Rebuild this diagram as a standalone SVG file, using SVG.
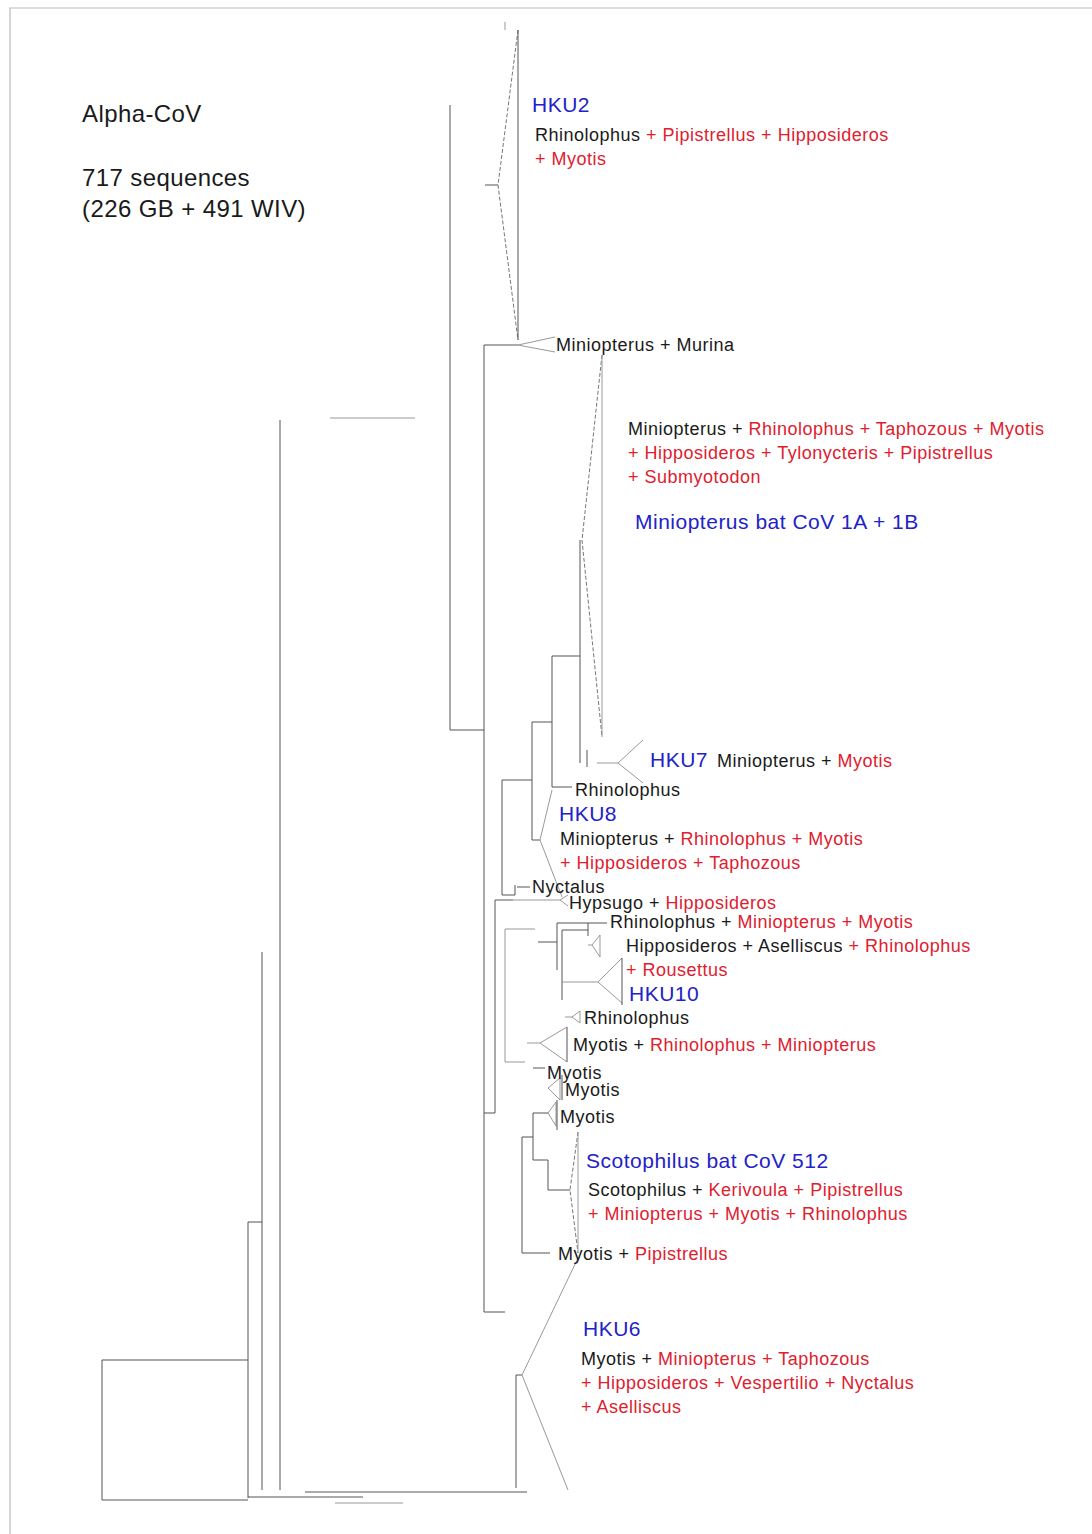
<svg xmlns="http://www.w3.org/2000/svg" width="1092" height="1534" viewBox="0 0 1092 1534">
<style>
text{font-family:"Liberation Sans",Arial,sans-serif;font-size:18px;letter-spacing:0.5px;fill:#1a1a1a}
.t{font-size:24px;letter-spacing:0.4px}
.b{fill:#2222c8;font-size:21px;letter-spacing:0.5px}
.r{fill:#e0202e}
.k{fill:#1a1a1a}
.ln{stroke:#555;stroke-width:1;fill:none}
.lt{stroke:#999;stroke-width:1;fill:none}
.ds{stroke:#777;stroke-width:1;fill:none;stroke-dasharray:4 2}
.fr{stroke:#bbb;stroke-width:1.2;fill:none}
</style>
<rect width="1092" height="1534" fill="#fff"/>
<path class="fr" d="M10 1534V8H1092"/>
<g id="connectors">
<path class="ln" d="M248 1360H102V1500H248"/>
<path class="ln" d="M248 1222V1498"/>
<path class="ln" d="M248 1222H262"/>
<path class="ln" d="M262 952V1490"/>
<path class="ln" d="M248 1497H363"/>
<path class="ln" d="M305 1492H527"/>
<path class="lt" d="M335 1503H403"/>
<path class="ln" d="M280 420V1490"/>
<path class="lt" d="M330 418H415"/>
<path class="ln" d="M450 105V730H484"/>
<path class="ln" d="M484 345V1312H505"/>
<path class="ln" d="M485 185H498"/>
<path class="ds" d="M518 30L498 185L518 340"/>
<path class="ln" d="M518 30V340"/>
<path class="lt" d="M505 22V30"/>
<path class="ln" d="M484 345H518"/>
<path class="lt" d="M518 345L555 337M518 345L555 352"/>
<path class="ds" d="M602 355L582 540L602 737"/>
<path class="lt" d="M602 355V737"/>
<path class="ln" d="M580 540V763"/>
<path class="ln" d="M552 656H580"/>
<path class="ln" d="M552 656V787H572"/>
<path class="ln" d="M532 722H552"/>
<path class="ln" d="M532 722V840H540"/>
<path class="ln" d="M587 750V767"/>
<path class="lt" d="M597 763H618L643 740M618 763L643 783"/>
<path class="lt" d="M552 790L540 840L562 897"/>
<path class="ln" d="M502 780H532"/>
<path class="ln" d="M502 780V895H515"/>
<path class="ln" d="M515 885V895"/>
<path class="ln" d="M517 887H530"/>
<path class="ln" d="M495 900V1113H484"/>
<path class="ln" d="M495 900H513"/>
<path class="lt" d="M513 900H560L568 895M560 900L568 906"/>
<path class="lt" d="M505 929H535"/>
<path class="lt" d="M505 929V1062H525"/>
<path class="ln" d="M538 942H557"/>
<path class="ln" d="M557 923V970"/>
<path class="ln" d="M557 923H607"/>
<path class="ln" d="M562 930V1000"/>
<path class="ln" d="M562 930H588M588 923V936"/>
<path class="lt" d="M588 945H592L600 935V957L592 945"/>
<path class="lt" d="M562 982H598L622 958M598 982L622 1003"/>
<path class="ln" d="M622 958V1005"/>
<path class="lt" d="M565 1017H572L580 1011V1023L572 1017"/>
<path class="lt" d="M527 1043H540L567 1027M540 1043L567 1062"/>
<path class="ln" d="M567 1027V1062"/>
<path class="ln" d="M533 1068H545"/>
<path class="lt" d="M548 1088L560 1078V1100Z"/>
<path class="ln" d="M562 1075V1100"/>
<path class="lt" d="M548 1113L556 1102V1126Z"/>
<path class="ln" d="M557 1100V1130"/>
<path class="ln" d="M533 1113H548"/>
<path class="ln" d="M533 1113V1160H548"/>
<path class="ln" d="M548 1160V1190H570"/>
<path class="ds" d="M578 1132L570 1190L578 1253"/>
<path class="lt" d="M578 1132V1253"/>
<path class="ln" d="M522 1137H533"/>
<path class="ln" d="M522 1137V1253H550"/>
<path class="ln" d="M516 1375V1488"/>
<path class="ln" d="M516 1375H522"/>
<path class="lt" d="M522 1375L578 1258M522 1375L568 1490"/>
</g>
<g id="title">
<text class="t" x="82" y="122">Alpha-CoV</text>
<text class="t" x="82" y="186">717 sequences</text>
<text class="t" x="82" y="217">(226 GB + 491 WIV)</text>
</g>
<g id="hku2">
<text class="b" x="532" y="112">HKU2</text>
<text x="535" y="141">Rhinolophus <tspan class="r">+ Pipistrellus + Hipposideros</tspan></text>
<text class="r" x="535" y="165">+ Myotis</text>
</g>
<g id="murina"><text x="556" y="351">Miniopterus + Murina</text></g>
<g id="mini1a1b">
<text x="628" y="435">Miniopterus + <tspan class="r">Rhinolophus + Taphozous + Myotis</tspan></text>
<text class="r" x="628" y="459">+ Hipposideros + Tylonycteris + Pipistrellus</text>
<text class="r" x="628" y="483">+ Submyotodon</text>
<text class="b" x="635" y="529">Miniopterus bat CoV 1A + 1B</text>
</g>
<g id="hku7">
<text class="b" x="650" y="767">HKU7</text>
<text x="717" y="767">Miniopterus + <tspan class="r">Myotis</tspan></text>
</g>
<g id="rhino1"><text x="575" y="796">Rhinolophus</text></g>
<g id="hku8">
<text class="b" x="559" y="821">HKU8</text>
<text x="560" y="845">Miniopterus + <tspan class="r">Rhinolophus + Myotis</tspan></text>
<text class="r" x="560" y="869">+ Hipposideros + Taphozous</text>
</g>
<g id="nyctalus"><text x="532" y="893">Nyctalus</text></g>
<g id="hypsugo"><text x="569" y="909">Hypsugo + <tspan class="r">Hipposideros</tspan></text></g>
<g id="rhino2"><text x="610" y="928">Rhinolophus + <tspan class="r">Miniopterus + Myotis</tspan></text></g>
<g id="hku10">
<text x="626" y="952">Hipposideros + Aselliscus <tspan class="r">+ Rhinolophus</tspan></text>
<text class="r" x="626" y="976">+ Rousettus</text>
<text class="b" x="629" y="1001">HKU10</text>
</g>
<g id="rhino3"><text x="584" y="1024">Rhinolophus</text></g>
<g id="myotis1"><text x="573" y="1051">Myotis + <tspan class="r">Rhinolophus + Miniopterus</tspan></text></g>
<g id="myotis2"><text x="547" y="1079">Myotis</text></g>
<g id="myotis3"><text x="565" y="1096">Myotis</text></g>
<g id="myotis4"><text x="560" y="1123">Myotis</text></g>
<g id="scoto">
<text class="b" x="586" y="1168">Scotophilus bat CoV 512</text>
<text x="588" y="1196">Scotophilus + <tspan class="r">Kerivoula + Pipistrellus</tspan></text>
<text class="r" x="588" y="1220">+ Miniopterus + Myotis + Rhinolophus</text>
</g>
<g id="myotis5"><text x="558" y="1260">Myotis + <tspan class="r">Pipistrellus</tspan></text></g>
<g id="hku6">
<text class="b" x="583" y="1336">HKU6</text>
<text x="581" y="1365">Myotis + <tspan class="r">Miniopterus + Taphozous</tspan></text>
<text class="r" x="581" y="1389">+ Hipposideros + Vespertilio + Nyctalus</text>
<text class="r" x="581" y="1413">+ Aselliscus</text>
</g>
</svg>
